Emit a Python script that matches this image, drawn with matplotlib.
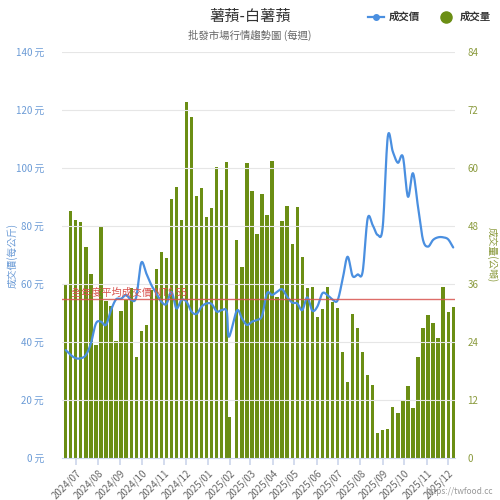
import numpy as np
import pandas as pd
import matplotlib
matplotlib.use("Agg")
import matplotlib.pyplot as plt
import matplotlib.dates as mdates
from matplotlib.lines import Line2D

plt.rcParams['font.family'] = ['Noto Sans CJK TC', 'DejaVu Sans']

# ---------------- data ----------------
title = "薯蕷-白薯蕷"
subtitle = "批發市場行情趨勢圖 (每週)"
week_start = "2024-06-17"
n_weeks = 78
missing_week = "2025-02-03"
extra_date = "2025-01-30"

# volume (公噸) in date order (extra date inserted after 2025-01-27)
volume = [36.0, 51.2, 49.2, 48.8, 43.7, 38.1, 23.4, 48.0, 32.5, 31.4,
          24.3, 30.5, 32.7, 35.2, 21.0, 26.3, 27.5, 34.8, 39.2, 42.7,
          41.3, 53.6, 56.1, 49.2, 73.6, 70.6, 54.2, 55.8, 49.8, 51.7,
          60.3, 55.4, 61.2, 8.5,
          45.1, 39.6, 61.0, 55.3, 46.3, 54.6, 50.3, 61.5, 33.4, 49.1,
          52.2, 44.3, 52.0, 41.5, 35.1, 35.4, 29.2, 30.8, 35.4, 32.3,
          31.0, 21.9, 15.8, 29.8, 27.0, 21.9, 17.2, 15.1, 5.1, 5.8,
          5.9, 10.6, 9.4, 11.8, 14.8, 10.4, 20.8, 27.0, 29.6, 27.9,
          24.8, 35.4, 30.3, 31.3]

# price (元/公斤)
price = [37.2, 35.5, 34.4, 34.4, 35.5, 39.5, 46.4, 47.0, 45.9, 51.0,
         54.7, 54.9, 56.2, 54.5, 55.4, 67.3, 63.7, 59.7, 56.8, 53.9,
         53.1, 57.3, 51.6, 54.5, 53.9, 50.5, 49.7, 52.2, 53.3, 53.1,
         50.5, 51.0, 50.5, 41.8,
         50.8, 48.2, 45.9, 47.0, 47.6, 49.0, 56.8, 56.2, 57.3, 58.2,
         55.6, 53.6, 53.3, 51.0, 55.4, 50.8, 52.2, 56.8, 56.2, 54.7,
         54.3, 61.4, 69.4, 62.8, 63.3, 64.2, 82.6, 80.3, 76.9, 79.8,
         110.8, 105.6, 101.8, 103.9, 90.1, 98.2, 86.7, 75.2, 72.9, 75.2,
         76.1, 76.1, 75.4, 72.6]

avg_price = 55
avg_label = "全年度平均成交價 NT$ 55"
left_ticks = [0, 20, 40, 60, 80, 100, 120, 140]
right_ticks = [0, 12, 24, 36, 48, 60, 72, 84]
month_ticks = pd.date_range("2024-07-01", "2025-12-01", freq="MS")

# ---------------- dates ----------------
weeks = pd.date_range(week_start, periods=n_weeks, freq="7D")
weeks = weeks[weeks != pd.Timestamp(missing_week)]
dates = weeks.append(pd.DatetimeIndex([extra_date])).sort_values()
xd = mdates.date2num(dates.to_pydatetime())

# colors
C_BAR = "#6b8e14"
C_LINE = "#4a8fe0"
C_LEFT = "#6b9bd6"
C_RIGHT = "#8a9a3c"
C_RED = "#d9534f"

fig = plt.figure(figsize=(5, 5), dpi=100)
ax_v = fig.add_axes([0.124, 0.084, 0.786, 0.812])  # volume (right axis)
ax_p = ax_v.twinx()

# bars
ax_v.bar(xd, volume, width=4.6, color=C_BAR, zorder=2)
ax_v.set_ylim(0, 84)
ax_v.set_yticks(right_ticks)
ax_v.yaxis.tick_right()
ax_v.yaxis.set_label_position("right")
ax_v.tick_params(axis='y', colors=C_RIGHT, labelsize=7, length=0, pad=9)
for t in ax_v.get_yticklabels():
    t.set_color(C_RIGHT)

# price axis on left
ax_p.yaxis.tick_left()
ax_p.yaxis.set_label_position("left")
ax_p.set_ylim(0, 140)
ax_p.set_yticks(left_ticks)
ax_p.set_yticklabels([f"{v} 元" for v in left_ticks])
ax_p.tick_params(axis='y', colors=C_LEFT, labelsize=7, length=0, pad=13)

# grid
for v in left_ticks[1:]:
    ax_p.axhline(v, color="#e6e6e6", lw=0.8, zorder=0)

# smooth price line (Catmull-Rom)
def catmull(x, y, n=12):
    x = np.asarray(x, float); y = np.asarray(y, float)
    px = np.concatenate([[2 * x[0] - x[1]], x, [2 * x[-1] - x[-2]]])
    py = np.concatenate([[2 * y[0] - y[1]], y, [2 * y[-1] - y[-2]]])
    ox, oy = [], []
    t = np.linspace(0, 1, n, endpoint=False)
    for i in range(1, len(px) - 2):
        p0x, p1x, p2x, p3x = px[i - 1:i + 3]
        p0y, p1y, p2y, p3y = py[i - 1:i + 3]
        t2, t3 = t * t, t * t * t
        ox.append(0.5 * (2 * p1x + (-p0x + p2x) * t + (2 * p0x - 5 * p1x + 4 * p2x - p3x) * t2 + (-p0x + 3 * p1x - 3 * p2x + p3x) * t3))
        oy.append(0.5 * (2 * p1y + (-p0y + p2y) * t + (2 * p0y - 5 * p1y + 4 * p2y - p3y) * t2 + (-p0y + 3 * p1y - 3 * p2y + p3y) * t3))
    ox.append([x[-1]]); oy.append([y[-1]])
    return np.concatenate(ox), np.concatenate(oy)

sx, sy = catmull(xd, price)
ax_p.plot(sx, sy, color=C_LINE, lw=1.6, zorder=4, solid_capstyle='round')

# average line
ax_p.axhline(avg_price, color=C_RED, lw=1.0, zorder=5, alpha=0.85)
ax_p.text(xd[0] + 7, avg_price + 0.3, avg_label, color=C_RED, fontsize=7.3,
          va='bottom', ha='left', zorder=6)

# x axis
x0 = mdates.date2num(pd.Timestamp(week_start).to_pydatetime())
ax_v.set_xlim(x0 - 5.2, x0 + 541.5)
ax_v.set_xticks(mdates.date2num(month_ticks.to_pydatetime()))
ax_v.set_xticklabels([d.strftime("%Y/%m") for d in month_ticks], rotation=45,
                     ha='right', rotation_mode='anchor', fontsize=7, color="#666666")
ax_v.tick_params(axis='x', length=5, color="#ccd6eb", width=1.2, pad=2)

for a in (ax_v, ax_p):
    for s in a.spines.values():
        s.set_visible(False)
ax_v.spines['bottom'].set_visible(True)
ax_v.spines['bottom'].set_color("#ccd6eb")
ax_p.set_zorder(ax_v.get_zorder() + 1)
ax_p.patch.set_visible(False)

# axis titles
fig.text(0.024, 0.49, "成交價(每公斤)", rotation=90, color=C_LEFT, fontsize=7,
         ha='center', va='center')
fig.text(0.984, 0.49, "成交量(公噸)", rotation=270, color=C_RIGHT, fontsize=7,
         ha='center', va='center')

# titles
fig.text(0.5, 0.968, title, ha='center', va='center', fontsize=11, color="#333333")
fig.text(0.5, 0.929, subtitle, ha='center', va='center', fontsize=7.5, color="#666666")

# legend
handles = [Line2D([], [], color=C_LINE, lw=1.6, marker='o', markersize=4),
           Line2D([], [], color=C_BAR, lw=0, marker='o', markersize=8)]
leg = fig.legend(handles, ["成交價", "成交量"], loc='upper right',
                 bbox_to_anchor=(1.0, 0.995), ncol=2, frameon=False,
                 prop={'size': 7.5, 'weight': 'bold'}, handlelength=1.5,
                 columnspacing=1.8, handletextpad=0.5)
for t in leg.get_texts():
    t.set_color("#333333")

fig.text(0.985, 0.016, "https://twfood.cc", ha='right', va='center',
         fontsize=6, color="#999999")

fig.savefig("out.png", dpi=100)
